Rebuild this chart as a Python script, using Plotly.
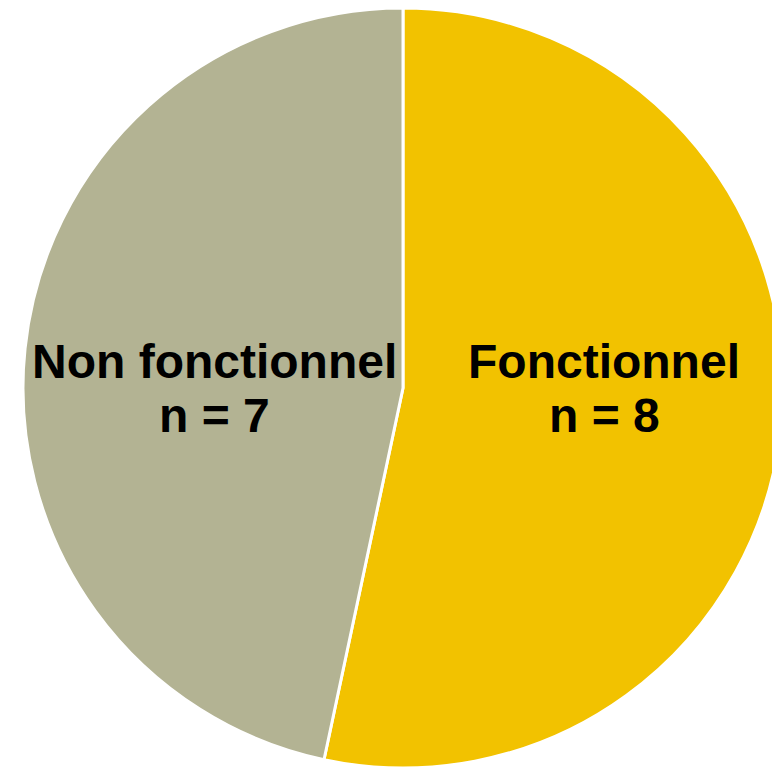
import plotly.graph_objects as go

labels = ["Fonctionnel", "Non fonctionnel"]
values = [8, 7]
colors = ["#F2C200", "#B3B393"]

W, H = 780, 770
OFF = 8  # default page body margin of the written HTML

label_x = [604 - OFF, 214 - OFF]   # pixel centres of the text blocks
line_y = [361 - OFF, 415 - OFF]    # pixel centres of the two text lines

cx, cy, r = 403 - OFF, 388 - OFF, 380

fig = go.Figure(go.Pie(
    labels=labels,
    values=values,
    marker=dict(colors=colors, line=dict(color="white", width=3)),
    sort=False,
    direction="clockwise",
    rotation=0,
    textinfo="none",
    hoverinfo="label+value",
    domain=dict(x=[(cx - r) / W, (cx + r) / W],
                y=[(H - cy - r) / H, (H - cy + r) / H]),
    showlegend=False,
))

annotations = []
for lab, val, px in zip(labels, values, label_x):
    for txt, py in zip([lab, f"n = {val}"], line_y):
        annotations.append(dict(
            x=px / W, y=1 - py / H, xref="paper", yref="paper",
            text=f"<b>{txt}</b>",
            showarrow=False, xanchor="center", yanchor="middle",
            font=dict(family="Liberation Sans, Arial, sans-serif", size=48, color="black"),
        ))

fig.update_layout(
    width=W, height=H,
    margin=dict(l=0, r=0, t=0, b=0),
    paper_bgcolor="white",
    plot_bgcolor="white",
    annotations=annotations,
)

fig.write_html("out.html")
